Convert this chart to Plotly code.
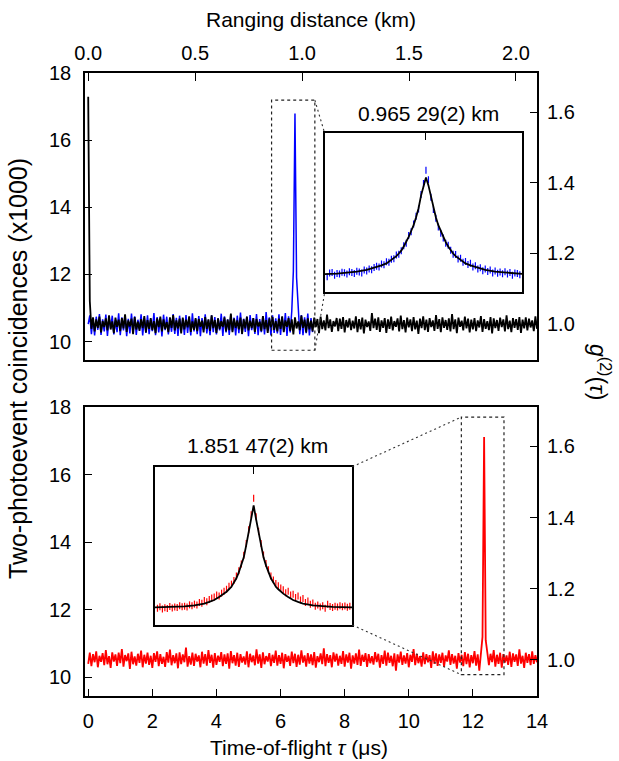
import numpy as np
import plotly.graph_objects as go

W, H = 619, 761
KM_PER_US = 0.149896          # ranging distance (km) per microsecond of time-of-flight
G2_NORM = 10.52               # coincidences (x1000) corresponding to g2 = 1
TAU_STEP = 0.05               # bin width of the long traces (us)

# ---------------- long traces (coincidences, x1000) ----------------
black_counts = [
    17.29, 11.20, 10.38, 10.72, 10.30, 10.66, 10.41, 10.74, 10.27, 10.61, 10.43, 10.69, 10.33, 10.78, 10.36, 10.60, 10.25, 10.71, 10.44, 10.65,
    10.31, 10.70, 10.39, 10.81, 10.29, 10.63, 10.45, 10.68, 10.22, 10.73, 10.36, 10.59, 10.32, 10.67, 10.40, 10.76, 10.27, 10.64, 10.38, 10.70,
    10.34, 10.61, 10.25, 10.69, 10.43, 10.74, 10.30, 10.66, 10.37, 10.58, 10.28, 10.72, 10.41, 10.79, 10.33, 10.63, 10.39, 10.68, 10.24, 10.71,
    10.36, 10.65, 10.42, 10.75, 10.29, 10.60, 10.35, 10.70, 10.31, 10.67, 10.44, 10.62, 10.27, 10.73, 10.38, 10.66, 10.32, 10.78, 10.40, 10.64,
    10.26, 10.69, 10.37, 10.61, 10.43, 10.72, 10.30, 10.65, 10.34, 10.83, 10.28, 10.68, 10.41, 10.63, 10.36, 10.71, 10.23, 10.66, 10.39, 10.74,
    10.33, 10.62, 10.40, 10.70, 10.29, 10.67, 10.45, 10.59, 10.31, 10.76, 10.37, 10.64, 10.26, 10.69, 10.42, 10.73, 10.35, 10.61, 10.30, 10.68,
    10.38, 10.75, 10.28, 10.63, 10.44, 10.70, 10.32, 10.66, 10.21, 10.72, 10.39, 10.60, 10.34, 10.77, 10.41, 10.65, 10.27, 10.69, 10.36, 10.62,
    10.30, 10.71, 10.43, 10.67, 10.25, 10.74, 10.37, 10.63, 10.33, 10.80, 10.40, 10.66, 10.29, 10.61, 10.45, 10.70, 10.31, 10.68, 10.38, 10.73,
    10.27, 10.64, 10.42, 10.69, 10.34, 10.62, 10.39, 10.75, 10.28, 10.67, 10.36, 10.71, 10.24, 10.65, 10.43, 10.60, 10.32, 10.85, 10.40, 10.68,
    10.35, 10.72, 10.29, 10.63, 10.41, 10.70, 10.26, 10.66, 10.38, 10.74, 10.33, 10.61, 10.44, 10.69, 10.30, 10.77, 10.37, 10.64, 10.27, 10.71,
    10.42, 10.66, 10.31, 10.73, 10.36, 10.62, 10.23, 10.68, 10.40, 10.75, 10.34, 10.65, 10.29, 10.70, 10.43, 10.63, 10.32, 10.79, 10.38, 10.67,
    10.28, 10.72, 10.41, 10.64, 10.35, 10.69, 10.30, 10.82, 10.37, 10.66, 10.25, 10.71, 10.44, 10.62, 10.33, 10.74, 10.39, 10.68, 10.27, 10.65,
    10.36, 10.70, 10.31, 10.63, 10.42, 10.76, 10.29, 10.67, 10.38, 10.61, 10.34, 10.73, 10.24, 10.69, 10.40, 10.64, 10.32, 10.71, 10.43, 10.66,
    10.30, 10.78, 10.37, 10.62, 10.28, 10.70, 10.41, 10.67, 10.35, 10.73, 10.26, 10.65, 10.39, 10.72, 10.33, 10.68, 10.42, 10.63, 10.31, 10.75,
    10.38,
]

blue_counts = [
    10.52, 10.78, 10.22, 10.69, 10.18, 10.74, 10.35, 10.82, 10.20, 10.66, 10.30, 10.80, 10.17, 10.71, 10.40, 10.77, 10.21, 10.63, 10.28, 10.84,
    10.19, 10.72, 10.33, 10.79, 10.16, 10.68, 10.24, 10.83, 10.29, 10.75, 10.20, 10.65, 10.37, 10.81, 10.18, 10.70, 10.26, 10.78, 10.22, 10.67,
    10.31, 10.85, 10.19, 10.73, 10.27, 10.69, 10.15, 10.80, 10.34, 10.74, 10.21, 10.66, 10.29, 10.82, 10.23, 10.71, 10.17, 10.77, 10.32, 10.68,
    10.20, 10.79, 10.26, 10.72, 10.18, 10.84, 10.30, 10.67, 10.22, 10.76, 10.16, 10.70, 10.35, 10.81, 10.24, 10.65, 10.19, 10.78, 10.28, 10.73,
    10.21, 10.69, 10.33, 10.83, 10.17, 10.75, 10.27, 10.66, 10.20, 10.80, 10.31, 10.71, 10.18, 10.77, 10.25, 10.86, 10.22, 10.68, 10.29, 10.74,
    10.16, 10.79, 10.34, 10.70, 10.23, 10.82, 10.19, 10.67, 10.28, 10.76, 10.21, 10.88, 10.32, 10.72, 10.18, 10.78, 10.26, 10.69, 10.24, 10.81,
    10.20, 10.73, 10.30, 10.85, 10.17, 10.75, 10.27, 10.90, 12.10, 16.79, 11.90, 10.95, 10.22, 10.79, 10.19, 10.72, 10.25, 10.83, 10.18, 10.70,
    10.28,
]

red_counts = [
    10.40, 10.73, 10.33, 10.69, 10.45, 10.77, 10.30, 10.64, 10.46, 10.72, 10.36, 10.81, 10.39, 10.63, 10.28, 10.74, 10.47, 10.68, 10.34, 10.73,
    10.42, 10.84, 10.32, 10.66, 10.48, 10.71, 10.25, 10.76, 10.39, 10.62, 10.35, 10.70, 10.43, 10.79, 10.30, 10.67, 10.41, 10.73, 10.37, 10.64,
    10.28, 10.72, 10.46, 10.77, 10.33, 10.69, 10.40, 10.61, 10.31, 10.75, 10.44, 10.82, 10.36, 10.66, 10.42, 10.71, 10.27, 10.74, 10.39, 10.68,
    10.45, 10.88, 10.32, 10.63, 10.38, 10.73, 10.34, 10.70, 10.47, 10.65, 10.30, 10.76, 10.41, 10.69, 10.35, 10.81, 10.43, 10.67, 10.29, 10.72,
    10.37, 10.64, 10.46, 10.75, 10.33, 10.68, 10.40, 10.71, 10.26, 10.78, 10.42, 10.66, 10.35, 10.73, 10.31, 10.69, 10.44, 10.62, 10.38, 10.77,
    10.30, 10.70, 10.45, 10.65, 10.36, 10.83, 10.41, 10.68, 10.28, 10.74, 10.39, 10.63, 10.47, 10.72, 10.33, 10.67, 10.43, 10.79, 10.35, 10.66,
    10.40, 10.73, 10.27, 10.69, 10.46, 10.64, 10.34, 10.76, 10.42, 10.70, 10.31, 10.67, 10.38, 10.80, 10.44, 10.65, 10.32, 10.72, 10.41, 10.68,
    10.36, 10.75, 10.29, 10.63, 10.45, 10.71, 10.39, 10.86, 10.33, 10.69, 10.43, 10.66, 10.30, 10.74, 10.47, 10.70, 10.35, 10.64, 10.40, 10.78,
    10.32, 10.68, 10.44, 10.73, 10.26, 10.65, 10.41, 10.71, 10.37, 10.82, 10.34, 10.67, 10.46, 10.72, 10.31, 10.69, 10.42, 10.63, 10.38, 10.75,
    10.45, 10.70, 10.29, 10.66, 10.40, 10.79, 10.35, 10.73, 10.43, 10.64, 10.33, 10.71, 10.20, 10.68, 10.44, 10.76, 10.37, 10.65, 10.41, 10.72,
    10.30, 10.67, 10.46, 10.84, 10.36, 10.70, 10.42, 10.63, 10.32, 10.74, 10.39, 10.69, 10.45, 10.66, 10.28, 10.77, 10.40, 10.71, 10.34, 10.68,
    10.43, 10.73, 10.31, 10.65, 10.47, 10.80, 10.37, 10.69, 10.41, 10.64, 10.26, 10.72, 10.44, 10.67, 10.33, 10.75, 10.39, 10.70, 10.30, 10.66,
    10.42, 10.78, 10.35, 10.68, 10.20, 10.62, 11.20, 17.11, 11.10, 10.74, 10.36, 10.70, 10.45, 10.81, 10.32, 10.67, 10.40, 10.73, 10.29, 10.69,
    10.44, 10.65, 10.37, 10.76, 10.31, 10.71, 10.46, 10.68, 10.34, 10.83, 10.41, 10.64, 10.28, 10.73, 10.43, 10.69, 10.36, 10.77, 10.40, 10.66,
    10.45,
]

# ---------------- zoom insets (g2 vs. time offset from the peak) ----------------
inset1_t = np.linspace(-1.0, 0.95, 79)
inset1_g2 = [
    0.990, 1.006, 1.008, 0.996, 1.004, 1.002, 1.009, 1.007, 1.001, 1.011,
    1.008, 1.004, 1.013, 1.010, 1.006, 1.018, 1.014, 1.022, 1.019, 1.028,
    1.033, 1.030, 1.043, 1.040, 1.052, 1.050, 1.062, 1.064, 1.080, 1.083,
    1.097, 1.118, 1.128, 1.160, 1.176, 1.208, 1.240, 1.270, 1.330, 1.375,
    1.430,
    1.390, 1.318, 1.268, 1.232, 1.195, 1.170, 1.150, 1.128, 1.120, 1.100,
    1.083, 1.082, 1.063, 1.066, 1.050, 1.053, 1.041, 1.046, 1.030, 1.036,
    1.022, 1.027, 1.015, 1.022, 1.012, 1.018, 1.006, 1.014, 1.005, 1.010,
    1.003, 1.011, 1.002, 1.008, 0.996, 1.006, 1.004, 0.998,
]
fit1_t = [-1.025, -1.0, -0.9, -0.8, -0.7, -0.6, -0.55, -0.5, -0.45, -0.4,
          -0.35, -0.3, -0.275, -0.25, -0.225, -0.2, -0.175, -0.15, -0.125, -0.1,
          -0.075, -0.05, -0.025, 0.0, 0.025, 0.05, 0.075, 0.1, 0.125, 0.15,
          0.175, 0.2, 0.225, 0.25, 0.275, 0.3, 0.35, 0.4, 0.45, 0.5,
          0.55, 0.6, 0.7, 0.8, 0.9, 0.975]
fit1_g2 = [1.001, 1.001, 1.003, 1.007, 1.011, 1.019, 1.024, 1.030, 1.037, 1.045,
           1.059, 1.075, 1.086, 1.098, 1.115, 1.133, 1.155, 1.179, 1.203, 1.236,
           1.273, 1.325, 1.367, 1.400, 1.367, 1.325, 1.273, 1.236, 1.203, 1.179,
           1.155, 1.133, 1.115, 1.098, 1.086, 1.075, 1.059, 1.045, 1.037, 1.030,
           1.024, 1.019, 1.011, 1.007, 1.003, 1.002]

inset2_t = np.linspace(-0.975, 0.975, 79)
inset2_g2 = [
    0.996, 1.002, 0.993, 0.998, 0.995, 1.003, 0.997, 1.001, 0.999, 1.006,
    1.002, 1.004, 1.001, 1.010, 1.006, 1.013, 1.009, 1.020, 1.017, 1.028,
    1.023, 1.032, 1.038, 1.042, 1.050, 1.046, 1.058, 1.066, 1.074, 1.086,
    1.095, 1.110, 1.128, 1.150, 1.178, 1.214, 1.262, 1.318, 1.380,
    1.448,
    1.372, 1.312, 1.262, 1.215, 1.180, 1.154, 1.128, 1.112, 1.098, 1.088,
    1.079, 1.072, 1.060, 1.066, 1.050, 1.054, 1.040, 1.046, 1.030, 1.036,
    1.020, 1.026, 1.012, 1.018, 1.004, 1.009, 1.001, 1.006, 0.996, 1.012,
    1.003, 0.999, 1.004, 1.001, 1.006, 1.002, 1.005, 1.000, 1.004,
]
fit2_t = [-1.0, -0.9, -0.8, -0.7, -0.6, -0.5, -0.45, -0.4, -0.35, -0.3,
          -0.275, -0.25, -0.225, -0.2, -0.175, -0.15, -0.125, -0.1, -0.075, -0.05,
          -0.025, 0.0, 0.025, 0.05, 0.075, 0.1, 0.125, 0.15, 0.175, 0.2,
          0.225, 0.25, 0.275, 0.3, 0.35, 0.4, 0.45, 0.5, 0.6, 0.7,
          0.8, 0.9, 1.0]
fit2_g2 = [1.000, 1.001, 1.002, 1.004, 1.008, 1.015, 1.022, 1.030, 1.042, 1.056,
           1.064, 1.074, 1.084, 1.102, 1.119, 1.144, 1.172, 1.205, 1.255, 1.306,
           1.361, 1.418, 1.361, 1.306, 1.255, 1.205, 1.172, 1.144, 1.119, 1.102,
           1.084, 1.074, 1.064, 1.056, 1.042, 1.030, 1.022, 1.015, 1.008, 1.004,
           1.002, 1.001, 1.000]

inset1_label = "0.965 29(2) km"
inset2_label = "1.851 47(2) km"

# zoomed regions in the main panels (tau in us, counts x1000)
zoom1_tau, zoom1_counts = [5.72, 7.07], [9.74, 17.19]
zoom2_tau, zoom2_counts = [11.64, 12.97], [10.08, 17.70]

count_ticks = [10, 12, 14, 16, 18]
g2_ticks = [1.0, 1.2, 1.4, 1.6]
tau_ticks = [0, 2, 4, 6, 8, 10, 12, 14]
km_ticks = [0.0, 0.5, 1.0, 1.5, 2.0]

# ---------------- layout geometry ----------------
TAU_RANGE = [-0.1, 14.0]
COUNT_RANGE = [9.45, 18.0]
G2_RANGE = [c / G2_NORM for c in COUNT_RANGE]
KM_RANGE = [t * KM_PER_US for t in TAU_RANGE]
IN1_X_RANGE, IN1_Y_RANGE = [-1.025, 0.975], [0.926, 1.582]
IN2_X_RANGE, IN2_Y_RANGE = [-1.0, 1.0], [0.9273, 1.577]

X_DOM = [85 / W, 537 / W]
Y_TOP = [1 - 360 / H, 1 - 73 / H]
Y_BOT = [1 - 696 / H, 1 - 407 / H]
IN1_XD = [324.7 / W, 522.3 / W]
IN1_YD = [1 - 292.3 / H, 1 - 133.3 / H]
IN2_XD = [155 / W, 352.3 / W]
IN2_YD = [1 - 625 / H, 1 - 466.7 / H]

FONT = "Liberation Sans, Arial, Helvetica, sans-serif"


def to_paper(v, rng, dom):
    return dom[0] + (v - rng[0]) / (rng[1] - rng[0]) * (dom[1] - dom[0])


tau_black = np.arange(len(black_counts)) * TAU_STEP
tau_blue = np.arange(len(blue_counts)) * TAU_STEP
tau_red = np.arange(len(red_counts)) * TAU_STEP

fig = go.Figure()

# top panel
fig.add_trace(go.Scatter(x=tau_blue, y=blue_counts, xaxis="x2", yaxis="y3", mode="lines",
                         line=dict(color="#0000ff", width=1.5), hoverinfo="skip"))
fig.add_trace(go.Scatter(x=tau_black, y=black_counts, xaxis="x2", yaxis="y3", mode="lines",
                         line=dict(color="black", width=1.8), hoverinfo="skip"))
# bottom panel
fig.add_trace(go.Scatter(x=tau_red, y=red_counts, xaxis="x", yaxis="y", mode="lines",
                         line=dict(color="#ff0000", width=1.8), hoverinfo="skip"))
# invisible anchors for secondary axes
fig.add_trace(go.Scatter(x=[1.0], y=[1.0], xaxis="x", yaxis="y2", mode="markers",
                         marker=dict(opacity=0, color="white"), hoverinfo="skip"))
fig.add_trace(go.Scatter(x=[1.0], y=[1.0], xaxis="x2", yaxis="y4", mode="markers",
                         marker=dict(opacity=0, color="white"), hoverinfo="skip"))
fig.add_trace(go.Scatter(x=[1.0], y=[12.0], xaxis="x3", yaxis="y3", mode="markers",
                         marker=dict(opacity=0, color="white"), hoverinfo="skip"))

# insets
fig.add_trace(go.Scatter(x=inset1_t, y=inset1_g2, xaxis="x4", yaxis="y5", mode="markers",
                         marker=dict(symbol="line-ns-open", size=5, color="#0000ff",
                                     line=dict(color="#0000ff", width=1.2)),
                         hoverinfo="skip"))
fig.add_trace(go.Scatter(x=fit1_t, y=fit1_g2, xaxis="x4", yaxis="y5", mode="lines",
                         line=dict(color="black", width=1.8), hoverinfo="skip"))
fig.add_trace(go.Scatter(x=inset2_t, y=inset2_g2, xaxis="x5", yaxis="y6", mode="markers",
                         marker=dict(symbol="line-ns-open", size=5, color="#ff0000",
                                     line=dict(color="#ff0000", width=1.2)),
                         hoverinfo="skip"))
fig.add_trace(go.Scatter(x=fit2_t, y=fit2_g2, xaxis="x5", yaxis="y6", mode="lines",
                         line=dict(color="black", width=1.8), hoverinfo="skip"))

tickfont = dict(family=FONT, size=20, color="black")
frame = dict(showline=True, linecolor="black", linewidth=1.6, mirror=True,
             showgrid=False, zeroline=False, automargin=False)
plain = dict(showgrid=False, zeroline=False, automargin=False)

layout_axes = dict(
    xaxis=dict(domain=X_DOM, anchor="y", range=TAU_RANGE, tickvals=tau_ticks,
               ticks="inside", ticklen=7, tickwidth=1.3, tickcolor="black",
               tickfont=tickfont, ticklabelstandoff=6, **frame),
    yaxis=dict(domain=Y_BOT, anchor="x", range=COUNT_RANGE, tickvals=count_ticks,
               ticks="inside", ticklen=7, tickwidth=1.3, tickcolor="black",
               tickfont=tickfont, ticklabelstandoff=8, **frame),
    yaxis2=dict(overlaying="y", side="right", anchor="x", range=G2_RANGE, tickvals=g2_ticks,
                ticktext=[f"{v:.1f}" for v in g2_ticks], ticks="inside", ticklen=7,
                tickwidth=1.3, tickcolor="black", tickfont=tickfont, ticklabelstandoff=9,
                showline=False, **plain),
    xaxis2=dict(domain=X_DOM, anchor="y3", range=TAU_RANGE, showticklabels=False,
                ticks="", **frame),
    yaxis3=dict(domain=Y_TOP, anchor="x2", range=COUNT_RANGE, tickvals=count_ticks,
                ticks="inside", ticklen=7, tickwidth=1.3, tickcolor="black",
                tickfont=tickfont, ticklabelstandoff=8, **frame),
    yaxis4=dict(overlaying="y3", side="right", anchor="x2", range=G2_RANGE, tickvals=g2_ticks,
                ticktext=[f"{v:.1f}" for v in g2_ticks], ticks="inside", ticklen=7,
                tickwidth=1.3, tickcolor="black", tickfont=tickfont, ticklabelstandoff=9,
                showline=False, **plain),
    xaxis3=dict(overlaying="x2", side="top", anchor="y3", range=KM_RANGE, tickvals=km_ticks,
                ticktext=[f"{v:.1f}" for v in km_ticks], ticks="inside", ticklen=8,
                tickwidth=1.3, tickcolor="black", tickfont=tickfont, ticklabelstandoff=8,
                showline=False, **plain),
    xaxis4=dict(domain=IN1_XD, anchor="y5", range=IN1_X_RANGE, side="top", tickvals=[0],
                ticks="inside", ticklen=7, tickwidth=1.2, tickcolor="black",
                showticklabels=False, **frame),
    yaxis5=dict(domain=IN1_YD, anchor="x4", range=IN1_Y_RANGE, ticks="",
                showticklabels=False, **frame),
    xaxis5=dict(domain=IN2_XD, anchor="y6", range=IN2_X_RANGE, side="top", tickvals=[0],
                ticks="inside", ticklen=7, tickwidth=1.2, tickcolor="black",
                showticklabels=False, **frame),
    yaxis6=dict(domain=IN2_YD, anchor="x5", range=IN2_Y_RANGE, ticks="",
                showticklabels=False, **frame),
)

shapes = []
dash_rect = dict(color="#222222", width=1.2, dash="3px,3px")
shapes.append(dict(type="rect", xref="x2", yref="y3", x0=zoom1_tau[0], x1=zoom1_tau[1],
                   y0=zoom1_counts[0], y1=zoom1_counts[1], line=dash_rect))
shapes.append(dict(type="rect", xref="x", yref="y", x0=zoom2_tau[0], x1=zoom2_tau[1],
                   y0=zoom2_counts[0], y1=zoom2_counts[1], line=dash_rect))
conn = dict(color="#333333", width=1.1, dash="2px,3px")
# top: rectangle right corners -> inset left corners
rx = to_paper(zoom1_tau[1], TAU_RANGE, X_DOM)
shapes.append(dict(type="line", xref="paper", yref="paper", x0=rx,
                   y0=to_paper(zoom1_counts[1], COUNT_RANGE, Y_TOP), x1=IN1_XD[0], y1=IN1_YD[1], line=conn))
shapes.append(dict(type="line", xref="paper", yref="paper", x0=rx,
                   y0=to_paper(zoom1_counts[0], COUNT_RANGE, Y_TOP), x1=IN1_XD[0], y1=IN1_YD[0], line=conn))
# bottom: inset right corners -> rectangle left corners
lx = to_paper(zoom2_tau[0], TAU_RANGE, X_DOM)
shapes.append(dict(type="line", xref="paper", yref="paper", x0=IN2_XD[1], y0=IN2_YD[1],
                   x1=lx, y1=to_paper(zoom2_counts[1], COUNT_RANGE, Y_BOT), line=conn))
shapes.append(dict(type="line", xref="paper", yref="paper", x0=IN2_XD[1], y0=IN2_YD[0],
                   x1=lx, y1=to_paper(zoom2_counts[0], COUNT_RANGE, Y_BOT), line=conn))

def ann(text, x, y, size=21, angle=0):
    return dict(text=text, x=x / W, y=1 - y / H, xref="paper", yref="paper", showarrow=False,
                xanchor="center", yanchor="middle", textangle=angle,
                font=dict(family=FONT, size=size, color="black"))

annotations = [
    ann("Ranging distance (km)", 311, 20),
    ann("Time-of-flight <i>τ</i> (μs)", 299, 747),
    ann("Two-photoevent coincidences (x1000)", 18, 369, size=25, angle=-90),
    ann("<i>g</i><sup>(2)</sup>(<i>τ</i>)", 600, 372, size=23, angle=90),
    ann(inset1_label, 428, 113),
    ann(inset2_label, 257, 446),
]

fig.update_layout(width=W, height=H, margin=dict(l=0, r=0, t=0, b=0, autoexpand=False),
                  paper_bgcolor="white", plot_bgcolor="white", showlegend=False,
                  shapes=shapes, annotations=annotations, **layout_axes)

fig.write_html("out.html", config={"displayModeBar": False},
               post_script="document.body.style.margin='0';document.body.style.padding='0';")
